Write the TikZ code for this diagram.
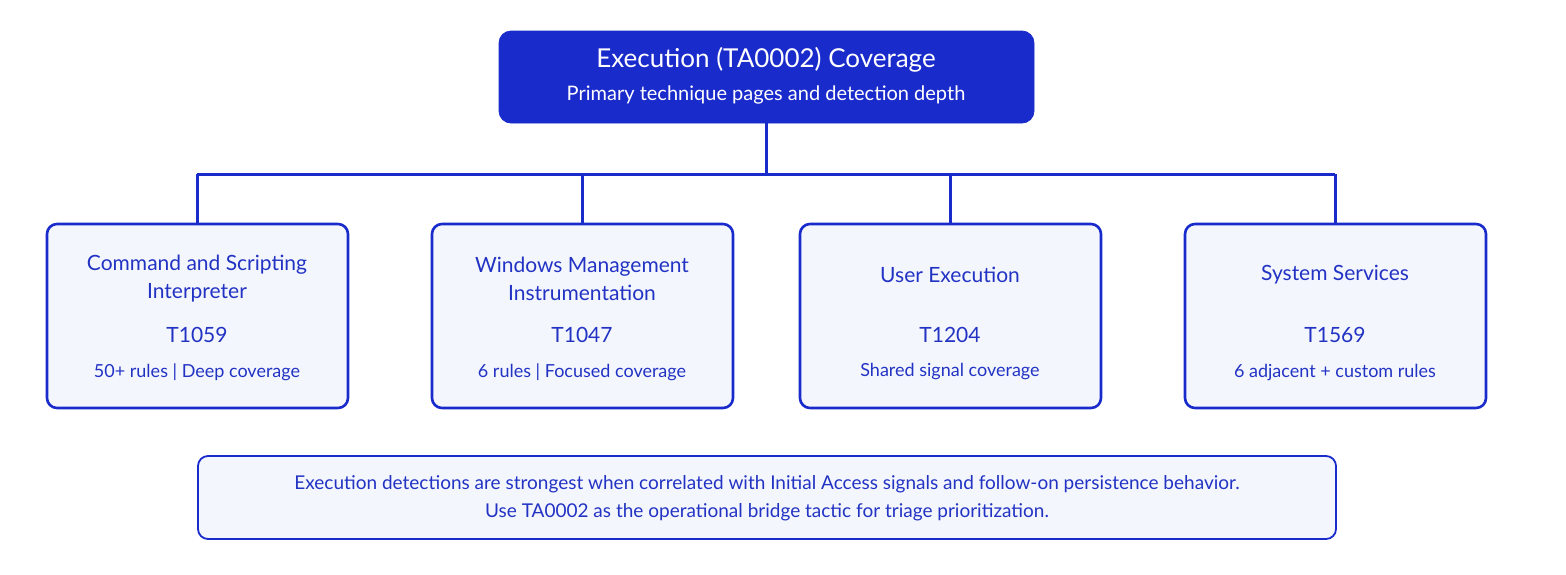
\documentclass[tikz,border=0pt]{standalone}
\usepackage{fontspec}
\setmainfont{Lato}
\definecolor{deepblue}{HTML}{1A2BCC}
\definecolor{inkblue}{HTML}{2233C4}
\definecolor{paleblue}{HTML}{F4F6FD}
\tikzset{
  card/.style={draw=deepblue, line width=1.3pt, fill=paleblue, rounded corners=5pt},
  wire/.style={draw=deepblue, line width=1.5pt},
  txt/.style={text=inkblue, align=center, font=\fontsize{10.5}{14}\selectfont}
}
\begin{document}
\begin{tikzpicture}[x=0.5pt, y=-0.5pt]
\useasboundingbox (0,0) rectangle (1566,574);

% header
\draw[fill=deepblue, draw=deepblue, rounded corners=6pt] (499,31) rectangle (1034,123);
\node[text=white, font=\fontsize{13}{16}\selectfont] (head) at (766,60) {Execution (TA0002) Coverage};
\node[text=white, font=\fontsize{10}{12}\selectfont] (sub) at (766,95) {Primary technique pages and detection depth};
\coordinate (hb) at (766,123);
\coordinate (hj) at (766,174);

% cards
\foreach \cx/\nm in {197/a, 582/b, 950/c, 1335/d}{
  \draw[card] (\cx-150,224) rectangle (\cx+151,408);
  \coordinate (top\nm) at (\cx,224);
  \coordinate (bus\nm) at (\cx,174);
  \draw[wire] (bus\nm) -- (top\nm);
}
\draw[wire] (hb) -- (hj);
\draw[wire] (busa) -- (busd);

\node[txt] (ta) at (197,279) {Command and Scripting\\Interpreter};
\node[txt] (tb) at (582,279) {Windows Management\\Instrumentation};
\node[txt] (tc) at (950,275) {User Execution};
\node[txt] (td) at (1335,275) {System Services};

\node[txt] (ca) at (197,335) {T1059};
\node[txt] (cb) at (582,335) {T1047};
\node[txt] (cc) at (950,335) {T1204};
\node[txt] (cd) at (1335,335) {T1569};

\node[txt, font=\fontsize{9}{11}\selectfont] (da) at (197,372) {50+ rules | Deep coverage};
\node[txt, font=\fontsize{9}{11}\selectfont] (db) at (582,372) {6 rules | Focused coverage};
\node[txt, font=\fontsize{9}{11}\selectfont] (dc) at (950,372) {Shared signal coverage};
\node[txt, font=\fontsize{9}{11}\selectfont] (dd) at (1335,372) {6 adjacent + custom rules};

% note
\draw[card, line width=0.9pt] (198,456) rectangle (1336,539);
\node[txt, font=\fontsize{9.5}{14}\selectfont] (note) at (767,498)
{Execution detections are strongest when correlated with Initial Access signals and follow-on persistence behavior.\\
Use TA0002 as the operational bridge tactic for triage prioritization.};
\end{tikzpicture}
\end{document}
